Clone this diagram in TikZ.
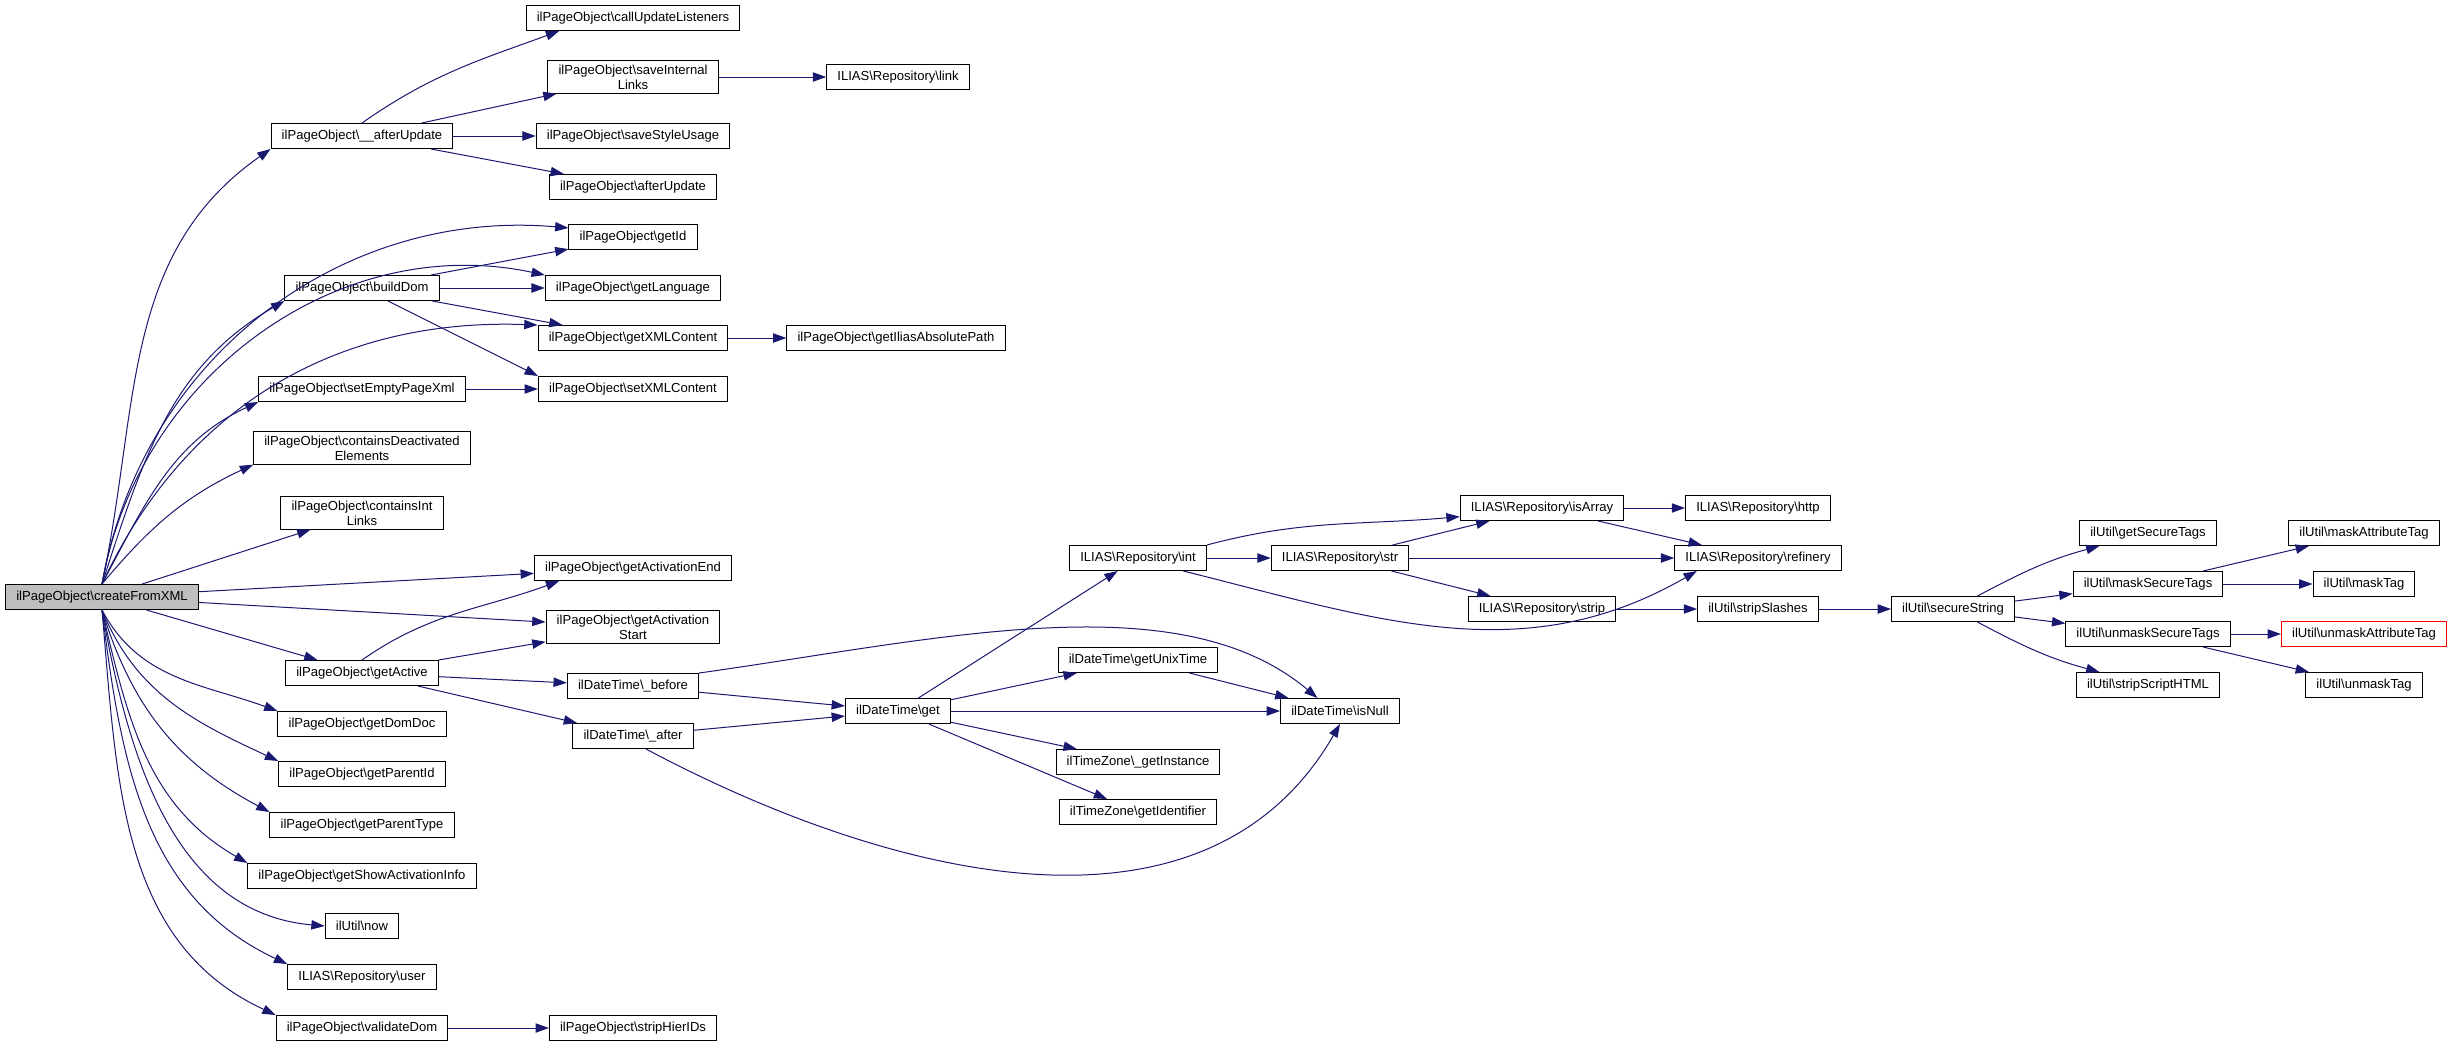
\documentclass[tikz,border=0pt]{standalone}
\usepackage{fontspec}
\setmainfont{Liberation Sans}
\usepackage{tikz}
\usetikzlibrary{arrows.meta}
\definecolor{callblue}{HTML}{191970}
\definecolor{rootgray}{HTML}{BFBFBF}
\newcommand{\bs}{\textbackslash}
\newcommand{\fnsize}{\fontsize{9.8}{11}\selectfont}
\tikzset{
  fn/.style={draw=black,line width=0.75pt,rectangle,align=center,inner xsep=8pt,inner ysep=3pt,minimum height=18.75pt,font=\fnsize},
  root/.style={fn,fill=rootgray},
  trunc/.style={fn,draw=red},
  call/.style={-{Triangle[length=10pt,width=7pt]},color=callblue,line width=0.75pt},
}

\begin{document}
\begin{tikzpicture}[x=0.75pt,y=-0.75pt]
\useasboundingbox (0,0) rectangle (2455,1047);
\node[root] (cfx)  at (102,597)  {ilPageObject\bs createFromXML};
%
\node[fn]   (au)   at (362,136)  {ilPageObject\bs\_\_afterUpdate};
\node[fn]   (bd)   at (362,288)  {ilPageObject\bs buildDom};
\node[fn]   (sep)  at (362,389)  {ilPageObject\bs setEmptyPageXml};
\node[fn]   (cde)  at (362,448)  {ilPageObject\bs containsDeactivated\\Elements};
\node[fn]   (cil)  at (362,513)  {ilPageObject\bs containsInt\\Links};
\node[fn]   (ga)   at (362,673)  {ilPageObject\bs getActive};
\node[fn]   (gdd)  at (362,724)  {ilPageObject\bs getDomDoc};
\node[fn]   (gpi)  at (362,774)  {ilPageObject\bs getParentId};
\node[fn]   (gpt)  at (362,825)  {ilPageObject\bs getParentType};
\node[fn]   (gsai) at (362,876)  {ilPageObject\bs getShowActivationInfo};
\node[fn]   (now)  at (362,926)  {ilUtil\bs now};
\node[fn]   (usr)  at (362,977)  {ILIAS\bs Repository\bs user};
\node[fn]   (vd)   at (362,1028) {ilPageObject\bs validateDom};
%
\node[fn]   (cul)  at (633,18)   {ilPageObject\bs callUpdateListeners};
\node[fn]   (sil)  at (633,77)   {ilPageObject\bs saveInternal\\Links};
\node[fn]   (ssu)  at (633,136)  {ilPageObject\bs saveStyleUsage};
\node[fn]   (aup)  at (633,187)  {ilPageObject\bs afterUpdate};
\node[fn]   (gid)  at (633,237)  {ilPageObject\bs getId};
\node[fn]   (glang) at (633,288) {ilPageObject\bs getLanguage};
\node[fn]   (gxml) at (633,338)  {ilPageObject\bs getXMLContent};
\node[fn]   (sxml) at (633,389)  {ilPageObject\bs setXMLContent};
\node[fn]   (gae)  at (633,568)  {ilPageObject\bs getActivationEnd};
\node[fn]   (gas)  at (633,627)  {ilPageObject\bs getActivation\\Start};
\node[fn]   (bef)  at (633,686)  {ilDateTime\bs\_before};
\node[fn]   (aft)  at (633,736)  {ilDateTime\bs\_after};
\node[fn]   (shid) at (633,1028) {ilPageObject\bs stripHierIDs};
%
\node[fn]   (lnk)  at (898,77)   {ILIAS\bs Repository\bs link};
\node[fn]   (giap) at (896,338)  {ilPageObject\bs getIliasAbsolutePath};
\node[fn]   (get)  at (898,711)  {ilDateTime\bs get};
\node[fn]   (int)  at (1138,558) {ILIAS\bs Repository\bs int};
\node[fn]   (gut)  at (1138,660) {ilDateTime\bs getUnixTime};
\node[fn]   (gti)  at (1138,762) {ilTimeZone\bs\_getInstance};
\node[fn]   (gidf) at (1138,812) {ilTimeZone\bs getIdentifier};
\node[fn]   (str)  at (1340,558) {ILIAS\bs Repository\bs str};
\node[fn]   (isn)  at (1340,711) {ilDateTime\bs isNull};
\node[fn]   (isa)  at (1542,508) {ILIAS\bs Repository\bs isArray};
\node[fn]   (strp) at (1542,609) {ILIAS\bs Repository\bs strip};
\node[fn]   (http) at (1758,508) {ILIAS\bs Repository\bs http};
\node[fn]   (ref)  at (1758,558) {ILIAS\bs Repository\bs refinery};
\node[fn]   (ssl)  at (1758,609) {ilUtil\bs stripSlashes};
\node[fn]   (ss)   at (1953,609) {ilUtil\bs secureString};
%
\node[fn]   (gst)  at (2148,533) {ilUtil\bs getSecureTags};
\node[fn]   (mst)  at (2148,584) {ilUtil\bs maskSecureTags};
\node[fn]   (ust)  at (2148,634) {ilUtil\bs unmaskSecureTags};
\node[fn]   (ssh)  at (2148,685) {ilUtil\bs stripScriptHTML};
\node[fn]   (mat)  at (2364,533) {ilUtil\bs maskAttributeTag};
\node[fn]   (mt)   at (2364,584) {ilUtil\bs maskTag};
\node[trunc] (umat) at (2364,634) {ilUtil\bs unmaskAttributeTag};
\node[fn]   (umt)  at (2364,685) {ilUtil\bs unmaskTag};
%
\path[call]
	(cfx.north)      edge[out=78,in=215]   (au.south west)
	(cfx.north)      edge[out=80,in=175]   (gid.172)
	(cfx.north)      edge[out=80,in=168]   (glang.north west)
	(cfx.north)      edge[out=72,in=210]   (bd.south west)
	(cfx.north)      edge[out=65,in=178]   (gxml.north west)
	(cfx.north)      edge[out=62,in=205]   (sep.south west)
	(cfx.north)      edge[out=50,in=205]   (cde.south west)
	(cfx)            edge                  (cil)
	(cfx)            edge                  (gae)
	(cfx)            edge                  (gas)
	(cfx)            edge                  (ga)
	(cfx.south)      edge[out=-62,in=160]  (gdd.north west)
	(cfx.south)      edge[out=-68,in=155]  (gpi.north west)
	(cfx.south)      edge[out=-73,in=152]  (gpt.north west)
	(cfx.south)      edge[out=-77,in=150]  (gsai.north west)
	(cfx.south)      edge[out=-80,in=175]  (now.west)
	(cfx.south)      edge[out=-83,in=155]  (usr.north west)
	(cfx.south)      edge[out=-85,in=155]  (vd.north west)
	(au.north)       edge[out=35,in=200]   (cul.-170)
	(au)             edge                  (sil)
	(au)             edge                  (ssu)
	(au)             edge                  (aup)
	(sil)            edge                  (lnk)
	(bd)             edge                  (gid)
	(bd)             edge                  (glang)
	(bd)             edge                  (gxml)
	(bd)             edge                  (sxml.north west)
	(gxml)           edge                  (giap)
	(sep)            edge                  (sxml)
	(ga.north)       edge[out=35,in=200]   (gae.-170)
	(ga)             edge                  (gas)
	(ga)             edge                  (bef)
	(ga)             edge                  (aft)
	(bef)            edge                  (get)
	(bef.north east) edge[out=8,in=140,in looseness=0.75] (isn.150)
	(aft)            edge                  (get)
	(aft.-45)        edge[out=-28,in=-120] (isn.south)
	(get)            edge                  (int)
	(get)            edge                  (gut)
	(get)            edge                  (isn)
	(get)            edge                  (gti)
	(get)            edge                  (gidf)
	(gut)            edge                  (isn)
	(int.north east) edge[out=15,in=185]   (isa.186)
	(int)            edge                  (str)
	(int.-16)        edge[out=-14,in=-150] (ref.-168)
	(str)            edge                  (isa)
	(str)            edge                  (ref)
	(str)            edge                  (strp)
	(isa)            edge                  (http)
	(isa)            edge                  (ref)
	(strp)           edge                  (ssl)
	(ssl)            edge                  (ss)
	(ss)             edge[out=28,in=195]   (gst)
	(ss)             edge                  (mst)
	(ss)             edge                  (ust)
	(ss)             edge[out=-28,in=165]  (ssh)
	(mst)            edge                  (mat)
	(mst)            edge                  (mt)
	(ust)            edge                  (umat)
	(ust)            edge                  (umt)
	(vd)             edge                  (shid)
; %-path-%
\end{tikzpicture}
\end{document}
